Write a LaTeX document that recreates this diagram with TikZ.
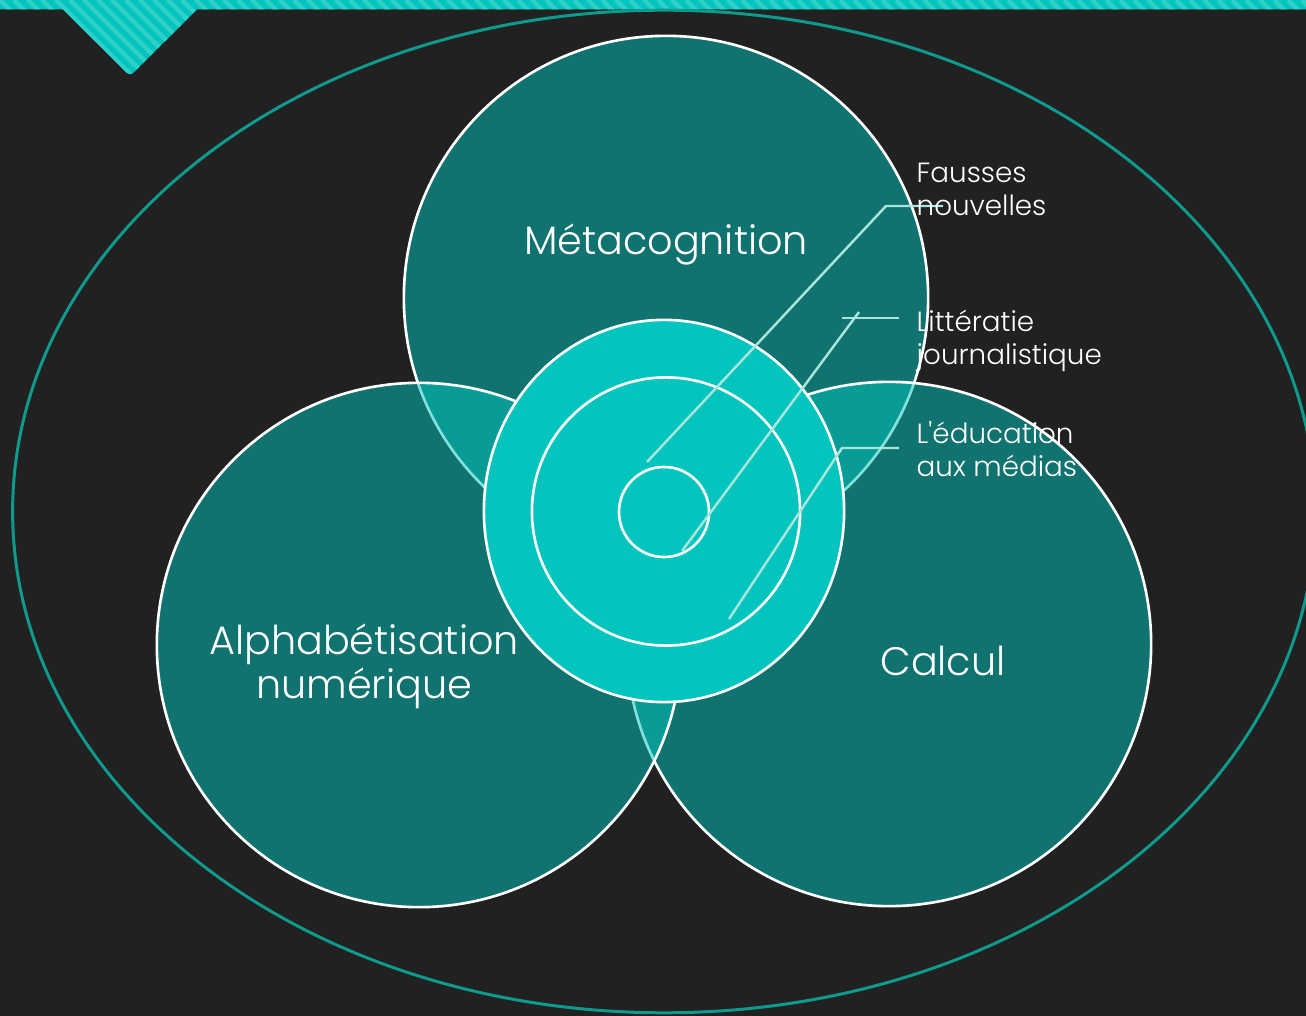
\documentclass[tikz,border=0pt]{standalone}
\usepackage{fontspec}
\setmainfont{Poppins}[UprightFont=* Light, Ligatures=TeXOff]
\usetikzlibrary{shapes.geometric,positioning}
\definecolor{bgdark}{HTML}{212121}
\definecolor{tealmain}{HTML}{03C5BD}
\definecolor{tealline}{HTML}{0E9A8C}
\definecolor{stripelight}{HTML}{2ED0C7}
\definecolor{leadercol}{HTML}{A8E5DC}
\tikzset{
bigcircle/.style={circle, draw=white, line width=0.75pt, fill=tealmain, fill opacity=0.5, draw opacity=1, minimum size=5.24cm, inner sep=0pt}, % the three big sets
corecircle/.style={ellipse, draw=white, line width=0.75pt, fill=tealmain, minimum width=3.6cm, minimum height=3.82cm, inner sep=0pt},
ringcircle/.style={circle, draw=white, line width=0.75pt, minimum size=2.68cm, inner sep=0pt},
dotcircle/.style={circle, draw=white, line width=0.75pt, minimum size=0.9cm, inner sep=0pt},
frameline/.style={ellipse, draw=tealline, line width=0.85pt, minimum width=13.02cm, minimum height=10.02cm, inner sep=0pt},
leader/.style={draw=leadercol, line width=0.7pt},
biglabel/.style={text=white, font=\fontsize{11.3}{12.5}\selectfont, align=center, inner sep=0pt},
smalllabel/.style={text=white, font=\fontsize{7.9}{9.4}\selectfont, align=left, anchor=west, inner sep=0pt}
}
\begin{document}
\begin{tikzpicture}[x=0.01cm,y=-0.01cm]
    \fill[bgdark] (0,0) rectangle (1306,1016);
    \useasboundingbox (0,0) rectangle (1306,1016);
    % striped band at the top
    \begin{scope}
    \clip (0,0) -- (1306,0) -- (1306,9.5) -- (197,9.5) [rounded corners=1.2pt] -- (130,76) [sharp corners] -- (63,9.5) -- (0,9.5) -- cycle;
    \fill[tealmain] (0,0) rectangle (1306,80);
    \foreach \i in {-84,-70,...,1306}
        \draw[stripelight, line width=1.3pt] (\i,0) -- ++(84,84);
    \end{scope}
    \node[frameline] (frame) at (664,511.5) {};
    % the three sets
    \node[bigcircle] (meta) at (666,298) {};
    \node[bigcircle] (calc) at (889,644) {};
    \node[bigcircle] (alpha) at (419,645) {};
    % the core
    \node[corecircle] (core) at (664,511) {};
    \node[ringcircle] (ring) at (666,511.5) {};
    \node[dotcircle] (dot) at (664,512) {};
    % leaders
    \coordinate (fn-in) at (647,462);
    \coordinate (fn-knee) at (886,206);
    \coordinate (fn-out) at (943,206);
    \draw[leader] (fn-in) -- (fn-knee) -- (fn-out);
    \coordinate (lj-in) at (682,551);
    \coordinate (lj-top) at (859,312);
    \coordinate (lj-a) at (842,318);
    \coordinate (lj-b) at (899,318);
    \draw[leader] (lj-in) -- (lj-top);
    \draw[leader] (lj-a) -- (lj-b);
    \coordinate (em-in) at (729,619);
    \coordinate (em-knee) at (842,448);
    \coordinate (em-out) at (899,448);
    \draw[leader] (em-in) -- (em-knee) -- (em-out);
    % labels
    \node[biglabel] (metalabel) at (666,245) {Métacognition};
    \node[biglabel] (alphalabel) at (364,666) {Alphabétisation\\numérique};
    \node[biglabel] (calclabel) at (943,661) {Calcul};
    \node[smalllabel] (fakenews) at (916,189) {Fausses\\nouvelles};
    \node[smalllabel] (journal) at (916,341) {Littératie\\journalistique};
    \node[smalllabel] (media) at (916,449) {L'éducation\\aux médias};
\end{tikzpicture}
\end{document}
